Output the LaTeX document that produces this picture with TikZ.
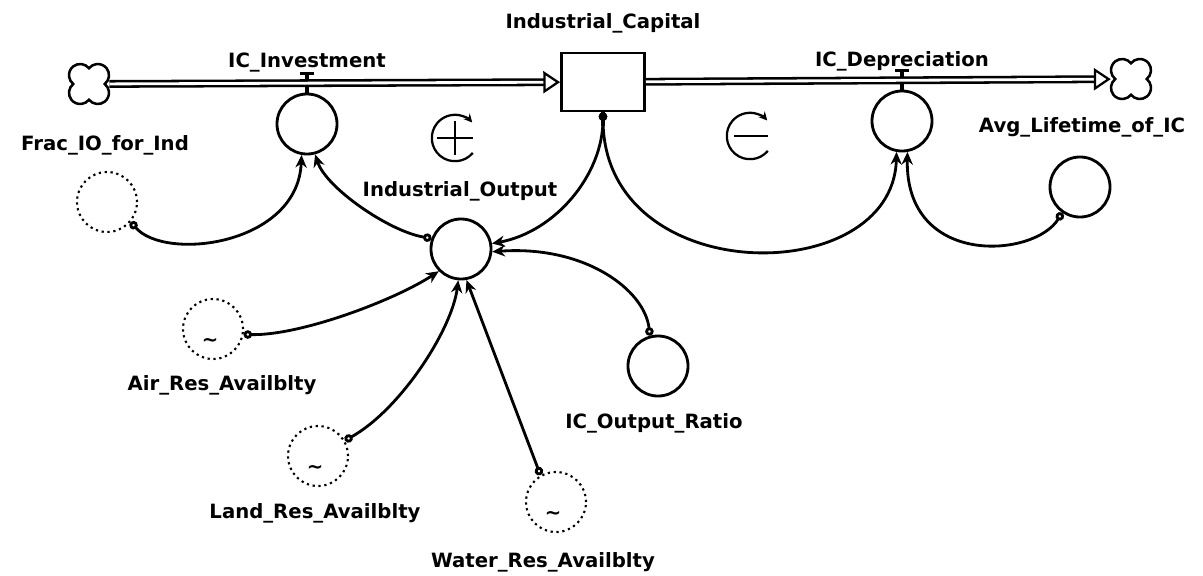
\documentclass[tikz,border=0pt]{standalone}
\usepackage{fontspec}
\setmainfont{DejaVu Sans}
\usetikzlibrary{arrows.meta}
% four-lobed source/sink cloud around a named node
\def\stellacloud(#1){\draw[line width=1.8pt, shift={(#1)}, x=1cm, y=1cm] (0.393,0) arc (-51.8:141.8:0.28) arc (38.2:231.8:0.28) arc (128.2:321.8:0.28) arc (218.2:411.8:0.28) -- cycle;}

\tikzset{
  conv/.style={draw, circle, line width=2pt, minimum size=1.5cm, inner sep=0pt},
  ghost/.style={draw, circle, line width=1.5pt, dash pattern=on 1.6pt off 2.6pt, minimum size=1.5cm, inner sep=0pt},
  lbl/.style={font=\fontsize{14}{16}\selectfont\bfseries, inner sep=0pt},
  tilde/.style={font=\fontsize{14}{14}\selectfont\bfseries, inner sep=0pt},
  link/.style={line width=2pt, {Circle[open,length=6pt,width=6pt]}-{Stealth[length=9pt,width=8pt]}},
  pipe/.style={line width=1.8pt, double, double distance=2pt, -{Triangle[open,length=0.42cm,width=0.55cm,line width=1.6pt]}},
  valve/.style={line width=2.2pt},
  cloudspot/.style={circle, minimum size=1cm, inner sep=0pt},
  loopmark/.style={line width=1.6pt, -{Stealth[length=6pt,width=6pt]}}
}

\begin{document}
\begin{tikzpicture}[x=0.025cm, y=-0.025cm]
  \useasboundingbox (0,0) rectangle (1203,575);

  %%%%% stock, clouds and rates %%%%%
  \node[draw, line width=2pt, minimum width=2.075cm, minimum height=1.45cm, inner sep=0pt] (stock) at (603,82) {};
  \node[cloudspot] (cloudL) at (89,84) {};
  \node[cloudspot] (cloudR) at (1131,79) {};
  \stellacloud(cloudL)
  \stellacloud(cloudR)

  \node[conv] (icinv) at (307,124) {};
  \node[conv] (icdep) at (902,121) {};

  \draw[valve] (icinv.north) -- ++(0,-19) ++(-7,0) -- ++(14,0);
  \draw[valve] (icdep.north) -- ++(0,-19) ++(-7,0) -- ++(14,0);

  \draw[pipe] (cloudL) -- (stock);
  \draw[pipe] (stock) -- (cloudR);
  \draw[line width=3pt] (stock.south) -- ++(0,14);

  %%%%% converters %%%%%
  \node[conv] (indout) at (461,249) {};
  \node[conv] (ratio) at (658,366) {};
  \node[conv] (avglife) at (1080,187) {};

  \node[ghost] (frac) at (107,202) {};
  \node[ghost] (air) at (213,329) {};
  \node[ghost] (land) at (318,456) {};
  \node[ghost] (water) at (556,502) {};
  \node[tilde] (airt) at (210,342) {\textasciitilde};
  \node[tilde] (landt) at (315,469) {\textasciitilde};
  \node[tilde] (watert) at (553,515) {\textasciitilde};

  %%%%% labels %%%%%
  \node[lbl] (stocklbl) at (603,23) {Industrial\_Capital};
  \node[lbl] (icinvlbl) at (307,63) {IC\_Investment};
  \node[lbl] (icdeplbl) at (902,61) {IC\_Depreciation};
  \node[lbl] (fraclbl) at (105,145) {Frac\_IO\_for\_Ind};
  \node[lbl] (indoutlbl) at (460,191) {Industrial\_Output};
  \node[lbl] (avglifelbl) at (1082,127) {Avg\_Lifetime\_of\_IC};
  \node[lbl] (airlbl) at (222,385) {Air\_Res\_Availblty};
  \node[lbl] (landlbl) at (315,513) {Land\_Res\_Availblty};
  \node[lbl] (waterlbl) at (543,562) {Water\_Res\_Availblty};
  \node[lbl] (ratiolbl) at (654,423) {IC\_Output\_Ratio};

  %%%%% loop signs %%%%%
  \begin{scope}[shift={(455,138)}, x=1cm, y=1cm]
    \draw[loopmark] (-40:0.58) arc (-40:-318:0.58);
    \draw[line width=1.6pt] (-0.45,0) -- (0.45,0) (0,-0.42) -- (0,0.42);
  \end{scope}
  \begin{scope}[shift={(750,136)}, x=1cm, y=1cm]
    \draw[loopmark] (-40:0.58) arc (-40:-318:0.58);
    \draw[line width=1.6pt] (-0.4,0) -- (0.45,0);
  \end{scope}

  %%%%% connectors %%%%%
  \draw[link] (frac.-40) .. controls (165,262) and (298,245) .. (icinv.-100);
  \draw[link] (indout.160) .. controls (390,232) and (326,188) .. (icinv.-75);
  \draw[link] (stock.south) .. controls (603,175) and (555,232) .. (indout.10);
  \draw[link] (ratio.105) .. controls (645,290) and (585,245) .. (indout.-5);
  \draw[link] (stock.south) .. controls (603,290) and (893,290) .. (icdep.-100);
  \draw[link] (avglife.-125) .. controls (1035,258) and (905,268) .. (icdep.-80);
  \draw[link] (air.-10) .. controls (300,336) and (395,300) .. (indout.-135);
  \draw[link] (land.30) .. controls (400,410) and (452,330) .. (indout.-95);
  \draw[link] (water.120) -- (indout.-80);
\end{tikzpicture}
\end{document}
